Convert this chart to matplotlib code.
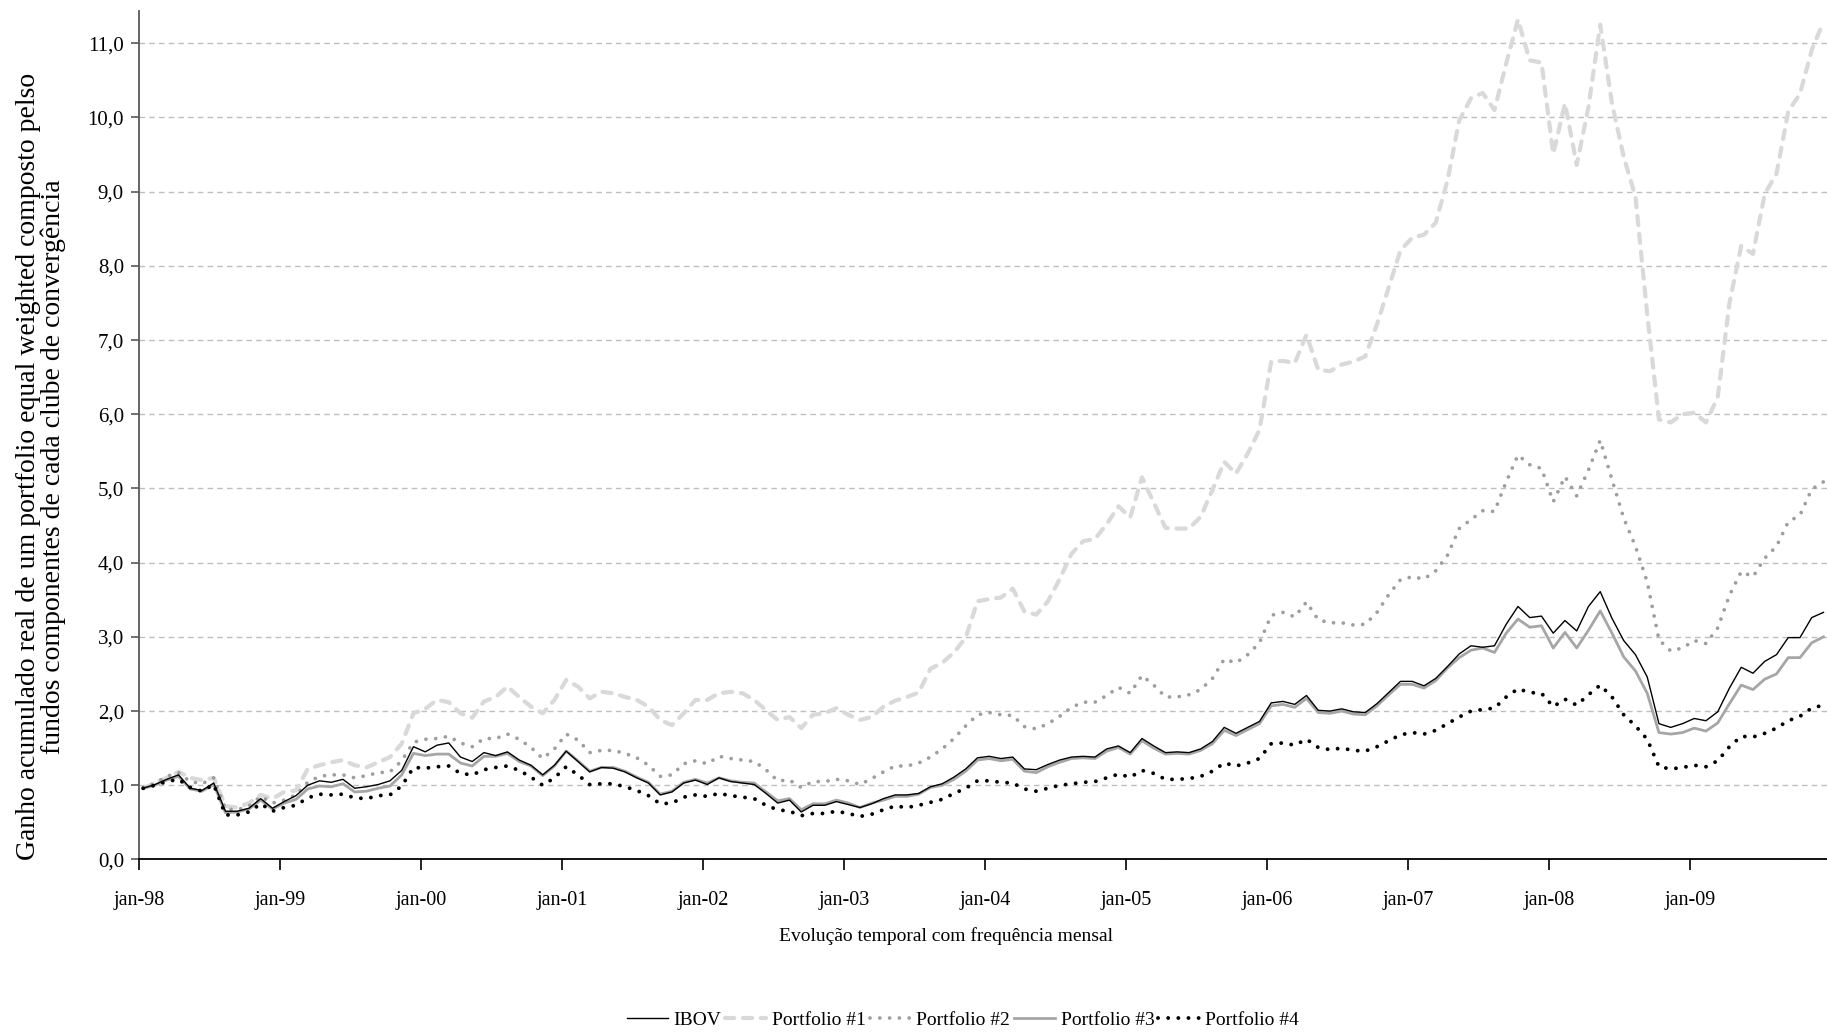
import matplotlib
matplotlib.use("Agg")
import matplotlib.pyplot as plt
import numpy as np

# monthly values, jan-98 .. dez-09
ibov = [0.96, 1.01, 1.08, 1.14, 0.96, 0.93, 1.03, 0.65, 0.65, 0.69, 0.82, 0.69,
        0.78, 0.86, 1.00, 1.06, 1.04, 1.08, 0.96, 0.98, 1.01, 1.06, 1.20, 1.52,
        1.45, 1.54, 1.57, 1.38, 1.32, 1.44, 1.40, 1.45, 1.34, 1.27, 1.14, 1.27,
        1.46, 1.32, 1.18, 1.24, 1.23, 1.18, 1.10, 1.03, 0.87, 0.91, 1.03, 1.07,
        1.01, 1.10, 1.05, 1.03, 1.01, 0.89, 0.76, 0.80, 0.64, 0.73, 0.73, 0.78,
        0.74, 0.70, 0.75, 0.82, 0.87, 0.87, 0.89, 0.98, 1.02, 1.11, 1.22, 1.37,
        1.39, 1.36, 1.38, 1.22, 1.21, 1.28, 1.34, 1.38, 1.39, 1.38, 1.49, 1.53,
        1.44, 1.63, 1.53, 1.44, 1.45, 1.44, 1.49, 1.59, 1.78, 1.70, 1.78, 1.86,
        2.11, 2.13, 2.09, 2.21, 2.01, 2.00, 2.03, 1.99, 1.98, 2.10, 2.25, 2.40,
        2.40, 2.34, 2.44, 2.60, 2.77, 2.88, 2.86, 2.88, 3.17, 3.41, 3.26, 3.28,
        3.05, 3.22, 3.08, 3.41, 3.61, 3.25, 2.95, 2.76, 2.46, 1.83, 1.78, 1.83,
        1.90, 1.87, 1.99, 2.31, 2.59, 2.51, 2.67, 2.76, 2.99, 2.99, 3.26, 3.33]

port1 = [0.96, 1.03, 1.10, 1.18, 1.10, 1.07, 1.10, 0.72, 0.70, 0.76, 0.87, 0.82,
         0.91, 0.93, 1.22, 1.27, 1.31, 1.34, 1.27, 1.24, 1.31, 1.38, 1.56, 1.97,
         2.03, 2.15, 2.12, 1.97, 1.91, 2.13, 2.19, 2.33, 2.19, 2.06, 1.97, 2.15,
         2.42, 2.33, 2.17, 2.26, 2.24, 2.19, 2.15, 2.06, 1.88, 1.81, 1.97, 2.15,
         2.15, 2.24, 2.26, 2.24, 2.15, 2.01, 1.88, 1.92, 1.77, 1.95, 1.97, 2.04,
         1.95, 1.88, 1.92, 2.06, 2.14, 2.19, 2.25, 2.57, 2.65, 2.79, 2.99, 3.48,
         3.51, 3.53, 3.65, 3.34, 3.30, 3.48, 3.78, 4.12, 4.29, 4.32, 4.52, 4.76,
         4.61, 5.15, 4.81, 4.47, 4.46, 4.46, 4.62, 4.98, 5.36, 5.20, 5.47, 5.79,
         6.71, 6.72, 6.69, 7.07, 6.60, 6.58, 6.67, 6.71, 6.78, 7.21, 7.71, 8.21,
         8.38, 8.42, 8.58, 9.15, 9.96, 10.26, 10.33, 10.10, 10.73, 11.32, 10.77, 10.74,
         9.51, 10.19, 9.36, 10.14, 11.25, 10.19, 9.47, 8.93, 7.35, 5.93, 5.89, 6.00,
         6.02, 5.89, 6.23, 7.50, 8.27, 8.16, 8.97, 9.24, 10.08, 10.32, 10.91, 11.29]

port2 = [0.96, 1.03, 1.12, 1.17, 1.05, 1.02, 1.10, 0.68, 0.67, 0.72, 0.85, 0.76,
         0.80, 0.87, 1.04, 1.12, 1.14, 1.14, 1.10, 1.13, 1.17, 1.18, 1.33, 1.58,
         1.62, 1.63, 1.66, 1.57, 1.52, 1.63, 1.63, 1.69, 1.62, 1.51, 1.36, 1.49,
         1.69, 1.61, 1.44, 1.47, 1.47, 1.43, 1.37, 1.27, 1.12, 1.14, 1.29, 1.33,
         1.29, 1.39, 1.36, 1.34, 1.32, 1.21, 1.06, 1.07, 0.97, 1.05, 1.05, 1.08,
         1.06, 1.01, 1.09, 1.18, 1.26, 1.26, 1.30, 1.38, 1.49, 1.63, 1.80, 1.95,
         1.98, 1.95, 1.94, 1.79, 1.76, 1.83, 1.93, 2.05, 2.12, 2.12, 2.21, 2.32,
         2.24, 2.48, 2.35, 2.19, 2.19, 2.22, 2.29, 2.44, 2.70, 2.65, 2.76, 2.92,
         3.29, 3.33, 3.27, 3.47, 3.23, 3.19, 3.19, 3.16, 3.17, 3.33, 3.57, 3.77,
         3.81, 3.78, 3.89, 4.10, 4.46, 4.58, 4.70, 4.69, 5.09, 5.45, 5.32, 5.27,
         4.82, 5.16, 4.90, 5.25, 5.65, 5.12, 4.60, 4.22, 3.74, 2.96, 2.81, 2.85,
         2.95, 2.91, 3.12, 3.56, 3.88, 3.81, 4.06, 4.22, 4.55, 4.64, 4.99, 5.09]

port3 = [0.96, 1.00, 1.07, 1.12, 0.95, 0.92, 1.01, 0.63, 0.64, 0.68, 0.80, 0.68,
         0.76, 0.81, 0.95, 0.99, 0.98, 1.02, 0.91, 0.92, 0.96, 0.99, 1.14, 1.43,
         1.40, 1.42, 1.42, 1.30, 1.26, 1.39, 1.39, 1.43, 1.32, 1.26, 1.13, 1.26,
         1.46, 1.33, 1.19, 1.24, 1.24, 1.19, 1.11, 1.04, 0.88, 0.92, 1.04, 1.08,
         1.03, 1.10, 1.06, 1.04, 1.03, 0.91, 0.79, 0.82, 0.67, 0.75, 0.75, 0.80,
         0.76, 0.70, 0.76, 0.80, 0.85, 0.85, 0.88, 0.97, 1.00, 1.08, 1.19, 1.34,
         1.36, 1.33, 1.35, 1.19, 1.17, 1.25, 1.31, 1.36, 1.37, 1.36, 1.46, 1.51,
         1.42, 1.60, 1.50, 1.42, 1.43, 1.42, 1.47, 1.56, 1.74, 1.67, 1.75, 1.83,
         2.07, 2.09, 2.05, 2.17, 1.98, 1.97, 2.00, 1.96, 1.95, 2.07, 2.22, 2.36,
         2.36, 2.31, 2.41, 2.58, 2.72, 2.82, 2.85, 2.79, 3.05, 3.24, 3.13, 3.15,
         2.85, 3.06, 2.85, 3.09, 3.35, 3.05, 2.73, 2.54, 2.24, 1.71, 1.69, 1.71,
         1.77, 1.73, 1.84, 2.10, 2.35, 2.29, 2.43, 2.50, 2.72, 2.72, 2.92, 3.00]

port4 = [0.96, 1.00, 1.05, 1.08, 0.97, 0.92, 1.01, 0.60, 0.60, 0.64, 0.75, 0.65,
         0.70, 0.73, 0.83, 0.88, 0.87, 0.88, 0.83, 0.82, 0.86, 0.87, 0.99, 1.24,
         1.23, 1.25, 1.26, 1.16, 1.14, 1.21, 1.24, 1.26, 1.20, 1.11, 1.00, 1.10,
         1.25, 1.14, 1.01, 1.02, 1.02, 0.98, 0.93, 0.86, 0.75, 0.76, 0.84, 0.87,
         0.85, 0.89, 0.86, 0.84, 0.82, 0.73, 0.67, 0.65, 0.59, 0.62, 0.62, 0.65,
         0.62, 0.58, 0.61, 0.67, 0.72, 0.70, 0.73, 0.77, 0.81, 0.89, 0.96, 1.06,
         1.06, 1.04, 1.03, 0.95, 0.92, 0.96, 1.00, 1.02, 1.04, 1.05, 1.10, 1.15,
         1.11, 1.20, 1.16, 1.08, 1.08, 1.09, 1.12, 1.19, 1.30, 1.26, 1.30, 1.36,
         1.56, 1.57, 1.54, 1.62, 1.51, 1.48, 1.50, 1.47, 1.46, 1.52, 1.60, 1.68,
         1.71, 1.69, 1.74, 1.83, 1.92, 2.00, 2.02, 2.04, 2.19, 2.30, 2.25, 2.24,
         2.06, 2.16, 2.08, 2.22, 2.35, 2.19, 1.95, 1.80, 1.62, 1.25, 1.22, 1.24,
         1.27, 1.25, 1.33, 1.52, 1.66, 1.65, 1.70, 1.77, 1.87, 1.93, 2.04, 2.08]

year_labels = ["jan-98", "jan-99", "jan-00", "jan-01", "jan-02", "jan-03",
               "jan-04", "jan-05", "jan-06", "jan-07", "jan-08", "jan-09"]
y_ticks = [0, 1, 2, 3, 4, 5, 6, 7, 8, 9, 10, 11]

plt.rcParams['font.family'] = ['Liberation Serif', 'DejaVu Serif']

fig = plt.figure(figsize=(18.27, 10.35), dpi=100)
ax = fig.add_axes([0.0762, 0.1696, 0.9238, 0.8194])

x = np.arange(len(ibov))
dots = (0, (0.01, 2.6))

ax.plot(x, port1, color='#d9d9d9', lw=3.0, linestyle=(0, (2.2, 2.1)),
        dash_capstyle='round', label='Portfolio #1', zorder=3)
ax.plot(x, port2, color='#9e9e9e', lw=2.7, linestyle=dots,
        dash_capstyle='round', label='Portfolio #2', zorder=3)
ax.plot(x, port3, color='#a6a6a6', lw=2.0, label='Portfolio #3', zorder=3)
ax.plot(x, ibov, color='black', lw=1.0, label='IBOV', zorder=4)
ax.plot(x, port4, color='black', lw=2.8, linestyle=dots,
        dash_capstyle='round', label='Portfolio #4', zorder=4)

ax.set_xlim(-0.34, 143.3)
ax.set_ylim(0, 11.43)
ax.set_xticks([12 * k - 0.34 for k in range(len(year_labels))])
ax.set_xticklabels(year_labels)
ax.set_yticks(y_ticks)
ax.set_yticklabels(["%d,0" % v for v in y_ticks])

ax.grid(axis='y', color='#bfbfbf', linestyle=(0, (4, 3)), lw=1.0, zorder=0)
ax.set_axisbelow(True)
for s in ['top', 'right']:
    ax.spines[s].set_visible(False)
ax.spines['left'].set_color('#595959')
ax.spines['left'].set_linewidth(1.3)
ax.spines['bottom'].set_color('black')
ax.spines['bottom'].set_linewidth(1.3)
ax.tick_params(axis='y', length=6, width=1.2, color='#595959', labelsize=15, pad=5)
ax.tick_params(axis='x', length=8, width=1.2, labelsize=14.5, pad=15)

fig.text(0.518, 0.0957, "Evolução temporal com frequência mensal",
         ha='center', va='center', fontsize=14)
fig.text(0.0225, 0.549,
         "Ganho acumulado real de um portfolio equal weighted composto pelso\n"
         "fundos componentes de cada clube de convergência",
         ha='center', va='center', rotation=90, fontsize=20, linespacing=0.95)

h, l = ax.get_legend_handles_labels()
order = [3, 0, 1, 2, 4]
fig.legend([h[i] for i in order], [l[i] for i in order], loc='center',
           bbox_to_anchor=(0.527, 0.0145), ncol=5, frameon=False, fontsize=14,
           handlelength=2.1, handletextpad=0.3, columnspacing=0.2)

fig.savefig("out.png", dpi=100)
